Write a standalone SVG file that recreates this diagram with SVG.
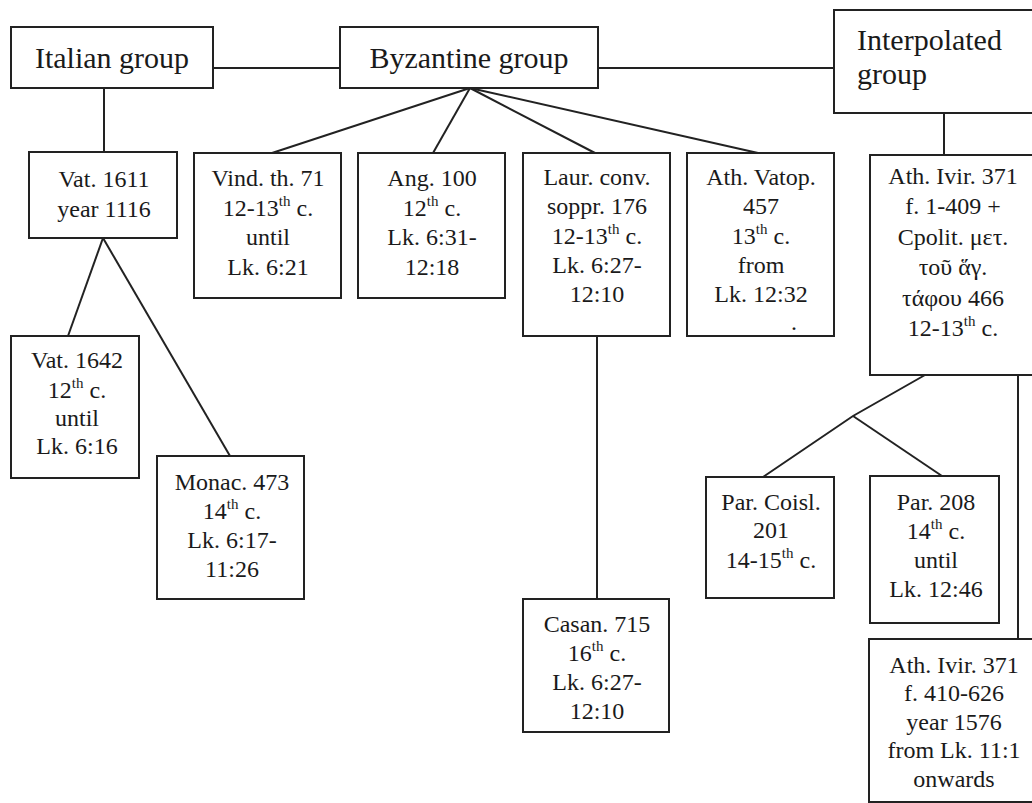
<svg xmlns="http://www.w3.org/2000/svg" width="1032" height="803" viewBox="0 0 1032 803">
<style>
.box{fill:#fff;stroke:#222;stroke-width:2}
.ln{fill:none;stroke:#222;stroke-width:2}
.t{font-family:"Liberation Serif","Times New Roman",serif;font-size:24px;text-anchor:middle;fill:#1a1a1a}
.g{font-family:"Liberation Serif","Times New Roman",serif;font-size:30px;fill:#1a1a1a}
.s{font-size:15px}
</style>
<rect width="1032" height="803" fill="#fff"/>
<g id="connectors">
<line class="ln" x1="213" y1="68" x2="340" y2="68"/>
<line class="ln" x1="598" y1="68" x2="834" y2="68"/>
<line class="ln" x1="104" y1="88" x2="104" y2="152"/>
<line class="ln" x1="470" y1="88" x2="272" y2="153"/>
<line class="ln" x1="470" y1="88" x2="433" y2="153"/>
<line class="ln" x1="470" y1="88" x2="595" y2="153"/>
<line class="ln" x1="470" y1="88" x2="758" y2="153"/>
<line class="ln" x1="944" y1="113" x2="944" y2="155"/>
<line class="ln" x1="103" y1="238" x2="68" y2="336"/>
<line class="ln" x1="103" y1="238" x2="230" y2="456"/>
<line class="ln" x1="597" y1="336" x2="597" y2="599"/>
<polyline class="ln" points="925,375 853,416 763,477"/>
<line class="ln" x1="853" y1="416" x2="942" y2="476"/>
<line class="ln" x1="1018" y1="375" x2="1018" y2="639"/>
</g>
<g id="italian">
<rect class="box" x="11" y="27" width="202" height="61"/>
<text class="g" x="112" y="68" text-anchor="middle">Italian group</text>
</g>
<g id="byzantine">
<rect class="box" x="340" y="27" width="258" height="61"/>
<text class="g" x="469" y="68" text-anchor="middle">Byzantine group</text>
</g>
<g id="interpolated">
<rect class="box" x="834" y="10" width="210" height="103"/>
<text class="g" x="857" y="50">Interpolated</text>
<text class="g" x="857" y="84">group</text>
</g>
<g id="vat1611">
<rect class="box" x="29" y="152" width="148" height="86"/>
<text class="t" x="104" y="187">Vat. 1611</text>
<text class="t" x="104" y="217">year 1116</text>
</g>
<g id="vind">
<rect class="box" x="194" y="153" width="147" height="145"/>
<text class="t" x="268" y="186">Vind. th. 71</text>
<text class="t" x="268" y="216">12-13<tspan class="s" dy="-10">th</tspan><tspan dy="10"> c.</tspan></text>
<text class="t" x="268" y="245">until</text>
<text class="t" x="268" y="275">Lk. 6:21</text>
</g>
<g id="ang">
<rect class="box" x="358" y="153" width="147" height="145"/>
<text class="t" x="432" y="186">Ang. 100</text>
<text class="t" x="432" y="216">12<tspan class="s" dy="-10">th</tspan><tspan dy="10"> c.</tspan></text>
<text class="t" x="432" y="245">Lk. 6:31-</text>
<text class="t" x="432" y="275">12:18</text>
</g>
<g id="laur">
<rect class="box" x="523" y="153" width="147" height="183"/>
<text class="t" x="597" y="185">Laur. conv.</text>
<text class="t" x="597" y="214">soppr. 176</text>
<text class="t" x="597" y="244">12-13<tspan class="s" dy="-10">th</tspan><tspan dy="10"> c.</tspan></text>
<text class="t" x="597" y="273">Lk. 6:27-</text>
<text class="t" x="597" y="302">12:10</text>
</g>
<g id="vatop">
<rect class="box" x="687" y="153" width="147" height="183"/>
<text class="t" x="761" y="185">Ath. Vatop.</text>
<text class="t" x="761" y="214">457</text>
<text class="t" x="761" y="244">13<tspan class="s" dy="-10">th</tspan><tspan dy="10"> c.</tspan></text>
<text class="t" x="761" y="273">from</text>
<text class="t" x="761" y="302">Lk. 12:32</text>
<text class="t" x="794" y="330">.</text>
</g>
<g id="ivir1">
<rect class="box" x="870" y="155" width="170" height="220"/>
<text class="t" x="953" y="184">Ath. Ivir. 371</text>
<text class="t" x="953" y="214">f. 1-409 +</text>
<text class="t" x="953" y="245">Cpolit. μετ.</text>
<text class="t" x="953" y="275">τοῦ  ἅγ.</text>
<text class="t" x="953" y="306">τάφου 466</text>
<text class="t" x="953" y="336">12-13<tspan class="s" dy="-10">th</tspan><tspan dy="10"> c.</tspan></text>
</g>
<g id="vat1642">
<rect class="box" x="11" y="336" width="128" height="142"/>
<text class="t" x="77" y="368">Vat. 1642</text>
<text class="t" x="77" y="398">12<tspan class="s" dy="-10">th</tspan><tspan dy="10"> c.</tspan></text>
<text class="t" x="77" y="426">until</text>
<text class="t" x="77" y="454">Lk. 6:16</text>
</g>
<g id="monac">
<rect class="box" x="157" y="456" width="147" height="143"/>
<text class="t" x="232" y="490">Monac. 473</text>
<text class="t" x="232" y="519">14<tspan class="s" dy="-10">th</tspan><tspan dy="10"> c.</tspan></text>
<text class="t" x="232" y="548">Lk. 6:17-</text>
<text class="t" x="232" y="577">11:26</text>
</g>
<g id="coisl">
<rect class="box" x="706" y="477" width="128" height="121"/>
<text class="t" x="771" y="510">Par. Coisl.</text>
<text class="t" x="771" y="538">201</text>
<text class="t" x="771" y="568">14-15<tspan class="s" dy="-10">th</tspan><tspan dy="10"> c.</tspan></text>
</g>
<g id="par208">
<rect class="box" x="870" y="476" width="129" height="147"/>
<text class="t" x="936" y="510">Par. 208</text>
<text class="t" x="936" y="539">14<tspan class="s" dy="-10">th</tspan><tspan dy="10"> c.</tspan></text>
<text class="t" x="936" y="568">until</text>
<text class="t" x="936" y="597">Lk. 12:46</text>
</g>
<g id="casan">
<rect class="box" x="523" y="599" width="146" height="133"/>
<text class="t" x="597" y="632">Casan. 715</text>
<text class="t" x="597" y="661">16<tspan class="s" dy="-10">th</tspan><tspan dy="10"> c.</tspan></text>
<text class="t" x="597" y="690">Lk. 6:27-</text>
<text class="t" x="597" y="719">12:10</text>
</g>
<g id="ivir2">
<rect class="box" x="869" y="639" width="171" height="163"/>
<text class="t" x="954" y="673">Ath. Ivir. 371</text>
<text class="t" x="954" y="701">f. 410-626</text>
<text class="t" x="954" y="730">year 1576</text>
<text class="t" x="954" y="758">from Lk. 11:1</text>
<text class="t" x="954" y="787">onwards</text>
</g>
</svg>
